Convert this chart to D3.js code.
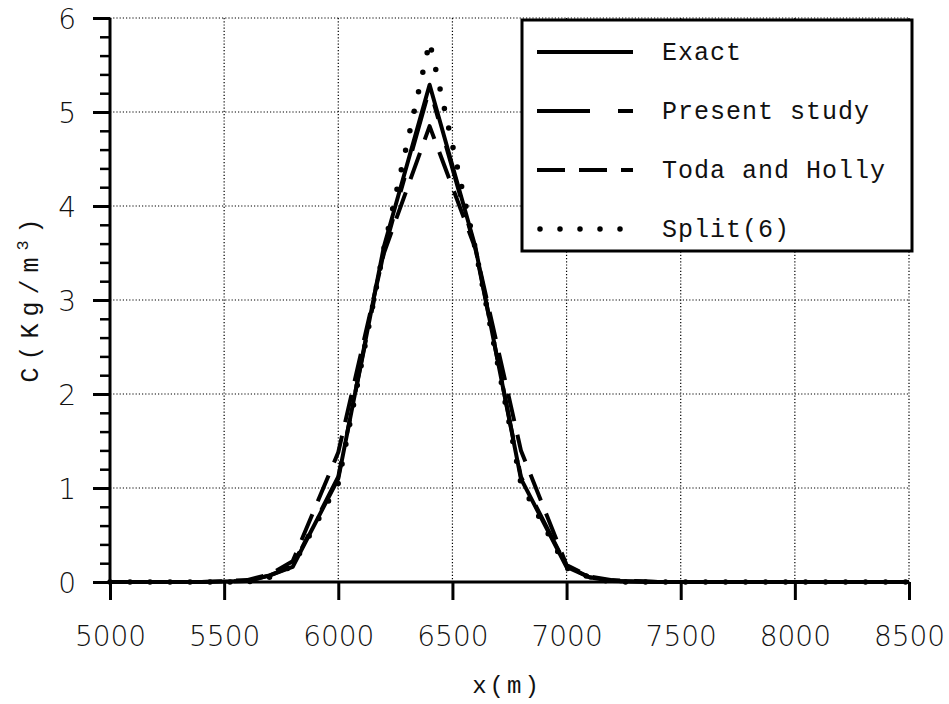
<!DOCTYPE html>
<html>
<head>
<meta charset="utf-8">
<script src="https://cdn.jsdelivr.net/npm/d3@7"></script>
<style>
    body { margin: 0; background: #fff; }
    svg { display: block; }
</style>
</head>
<body>
<svg id="chart" width="949" height="704"></svg>
<script>
// x positions (m) shared by all series
const xNodes = [5000, 5400, 5600, 5700, 5800, 6000, 6200, 6400, 6600, 6800, 7000, 7100, 7200, 7400, 8500];

// concentration C (Kg/m3) per series
const exact   = [0, 0, 0.01, 0.07, 0.16, 1.10, 3.57, 5.29, 3.57, 1.10, 0.16, 0.05, 0.01, 0, 0];
const present = [0, 0, 0.01, 0.07, 0.17, 1.12, 3.52, 5.25, 3.55, 1.12, 0.17, 0.05, 0.01, 0, 0];
const toda    = [0, 0, 0.02, 0.08, 0.22, 1.38, 3.50, 4.85, 3.55, 1.40, 0.18, 0.06, 0.02, 0, 0];
const split   = [0, 0, 0.00, 0.05, 0.17, 1.05, 3.55, 5.75, 3.55, 1.05, 0.15, 0.05, 0.00, 0, 0];

const xTicks = [5000, 5500, 6000, 6500, 7000, 7500, 8000, 8500];
const yTicks = [0, 1, 2, 3, 4, 5, 6];
const legendLabels = ['Exact', 'Present study', 'Toda and Holly', 'Split(6)'];

const monoFont = '"Courier New", "Nimbus Mono PS", FreeMono, "Liberation Mono", monospace';

const svg = d3.select('#chart');

const x = d3.scaleLinear().domain([5000, 8500]).range([110, 909]);
const y = d3.scaleLinear().domain([0, 6]).range([582, 18]);

const series = [
    { name: legendLabels[2], values: toda,    dash: '28,14',       width: 4, cap: 'butt' },
    { name: legendLabels[3], values: split,   dash: '0,20',        width: 5.5, cap: 'round' },
    { name: legendLabels[1], values: present, dash: '53,28,15,28', width: 4, cap: 'butt' },
    { name: legendLabels[0], values: exact,   dash: null,          width: 4, cap: 'butt' }
];

//grid
const grid = svg.append('g').attr('class', 'grid');
grid.selectAll('line.gx')
    .data(xTicks.slice(1))
    .enter().append('line')
    .attr('x1', d => x(d)).attr('x2', d => x(d))
    .attr('y1', y(6)).attr('y2', y(0))
    .attr('stroke', '#000').attr('stroke-width', 1.2)
    .attr('stroke-dasharray', '1.2,2');
grid.selectAll('line.gy')
    .data(yTicks.slice(1))
    .enter().append('line')
    .attr('x1', x(5000)).attr('x2', x(8500))
    .attr('y1', d => y(d)).attr('y2', d => y(d))
    .attr('stroke', '#000').attr('stroke-width', 1.2)
    .attr('stroke-dasharray', '1.2,2');

//axes
const xAxis = d3.axisBottom(x).tickValues(xTicks).tickSize(18).tickFormat(d3.format('d'));
const gx = svg.append('g').attr('transform', `translate(0,${y(0)})`).call(xAxis);
gx.select('.domain').attr('stroke', '#000').attr('stroke-width', 3).attr('d', `M${x(5000)},0H${x(8500)}`);
gx.selectAll('.tick line').attr('stroke', '#000').attr('stroke-width', 3);
gx.selectAll('.tick text')
    .attr('y', 42).attr('dy', 22)
    .attr('font-family', '"DejaVu Sans", sans-serif')
    .attr('font-weight', 200)
    .attr('font-size', 28)
    .attr('fill', '#111');

const yMinor = d3.range(0, 6.01, 0.2).filter(v => Math.abs(v - Math.round(v)) > 1e-6);
const gyMinor = svg.append('g').attr('transform', `translate(${x(5000)},0)`)
    .call(d3.axisLeft(y).tickValues(yMinor).tickSize(10).tickFormat(''));
gyMinor.select('.domain').remove();
gyMinor.selectAll('.tick line').attr('stroke', '#000').attr('stroke-width', 2.5);

const gy = svg.append('g').attr('transform', `translate(${x(5000)},0)`)
    .call(d3.axisLeft(y).tickValues(yTicks).tickSize(17).tickFormat(d3.format('d')));
gy.select('.domain').attr('stroke', '#000').attr('stroke-width', 3).attr('d', `M0,${y(0)}V${y(6)}`);
gy.selectAll('.tick line').attr('stroke', '#000').attr('stroke-width', 3);
gy.selectAll('.tick text')
    .attr('x', -34).attr('dy', '0.36em')
    .attr('font-family', '"DejaVu Sans", sans-serif')
    .attr('font-weight', 200)
    .attr('font-size', 28)
    .attr('fill', '#111');

//curves
const line = d3.line()
    .x((d, i) => x(xNodes[i]))
    .y(d => y(d));

svg.append('g').selectAll('path.curve')
    .data(series)
    .enter().append('path')
    .attr('class', 'curve')
    .attr('d', d => line(d.values))
    .attr('fill', 'none')
    .attr('stroke', '#000')
    .attr('stroke-width', d => d.width)
    .attr('stroke-linecap', d => d.cap)
    .attr('stroke-linejoin', 'round')
    .attr('stroke-dasharray', d => d.dash);

//legend
const legend = svg.append('g');
legend.append('rect')
    .attr('x', 522).attr('y', 20).attr('width', 390).attr('height', 231)
    .attr('fill', '#fff').attr('stroke', '#000').attr('stroke-width', 3);

const legendItems = [series[3], series[2], series[0], series[1]];
const rows = legend.selectAll('g.row')
    .data(legendItems)
    .enter().append('g')
    .attr('transform', (d, i) => `translate(0,${52 + i * 59})`);
rows.append('line')
    .attr('x1', d => d.cap === 'round' ? 540 : 537).attr('x2', 633)
    .attr('y1', 0).attr('y2', 0)
    .attr('stroke', '#000')
    .attr('stroke-width', d => d.width)
    .attr('stroke-linecap', d => d.cap)
    .attr('stroke-dasharray', d => d.dash);
rows.append('text')
    .attr('x', 662).attr('y', 8)
    .attr('font-family', monoFont)
    .attr('font-size', 25)
    .attr('letter-spacing', 1)
    .attr('fill', '#111')
    .text(d => d.name);

//axis titles
svg.append('text')
    .attr('x', 507).attr('y', 693)
    .attr('text-anchor', 'middle')
    .attr('font-family', monoFont)
    .attr('font-size', 24)
    .attr('letter-spacing', 3)
    .attr('fill', '#111')
    .text('x(m)');

const yTitle = svg.append('text')
    .attr('transform', 'translate(38,297) rotate(-90)')
    .attr('text-anchor', 'middle')
    .attr('font-family', monoFont)
    .attr('font-size', 25)
    .attr('letter-spacing', 7)
    .attr('fill', '#111');
yTitle.append('tspan').text('C(Kg/m');
yTitle.append('tspan').attr('dy', -10).attr('font-size', 17).text('3');
yTitle.append('tspan').attr('dy', 10).text(')');
</script>
</body>
</html>
